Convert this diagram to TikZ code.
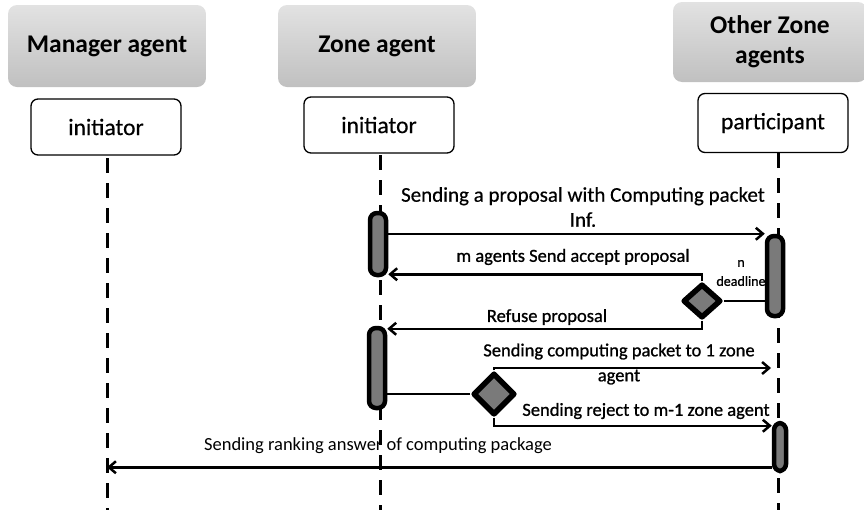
\documentclass[tikz,border=0pt]{standalone}
\usepackage{fontspec}
\setmainfont{Carlito}
\newfontfamily\heavyfont[FakeBold=0.9]{Carlito}
\newfontfamily\midfont[FakeBold=0.4]{Carlito}
\usetikzlibrary{arrows.meta,positioning,shapes.geometric}
\definecolor{hdtop}{RGB}{226,226,226}
\definecolor{hdbot}{RGB}{192,192,192}
\definecolor{barg}{RGB}{122,122,122}
\newcommand{\fsz}[2]{\fontsize{#1}{#2}\selectfont}

\begin{document}
\begin{tikzpicture}[x=1pt,y=-1pt,>={Straight Barb[length=7pt,width=12pt]},
  header/.style={rounded corners=9pt,top color=hdtop,bottom color=hdbot,minimum width=198pt,minimum height=82pt,align=center,font=\bfseries\fsz{25.5}{30}},
  role/.style={draw,line width=1.3pt,rounded corners=7pt,fill=white,minimum width=150pt,minimum height=56pt,font=\midfont\fsz{23.5}{28}},
  lifeline/.style={line width=3pt,dash pattern=on 15pt off 10pt},
  actbar/.style={draw,line width=4.5pt,rounded corners=7pt,fill=barg,minimum width=16pt,inner sep=0pt},
  choice/.style={diamond,draw,line width=5.5pt,line join=round,fill=barg,inner sep=0pt,minimum width=38pt,minimum height=34pt},
  msg/.style={->,line width=2.5pt},
  link/.style={line width=2.5pt},
  lbl/.style={font=\heavyfont\fsz{18.5}{25},align=center}]
  \useasboundingbox (0,0) rectangle (864,512);

  \node[header] (mgrhead) at (107,46) {Manager agent};
  \node[header] (zonehead) at (377,46) {Zone agent};
  \node[header,minimum width=194pt,minimum height=80pt] (othhead) at (770,42) {Other Zone\\agents};

  \node[role] (mgrrole) at (106,127) {initiator};
  \node[role] (zonerole) at (379,125) {initiator};
  \node[role,minimum height=59pt] (othrole) at (773,123) {participant};

  \coordinate (mgrtop) at (107,158);
  \coordinate (mgrend) at (107,510);
  \coordinate (zonetop) at (380,155);
  \coordinate (zoneend) at (380,510);
  \coordinate (othtop) at (778,153);
  \coordinate (othend) at (778,510);
  \draw[lifeline] (mgrtop) -- (mgrend);
  \draw[lifeline] (zonetop) -- (zoneend);
  \draw[lifeline] (othtop) -- (othend);

  \node[lbl,font=\midfont\fsz{21}{25}] (proplbl) at (583,207) {Sending a proposal with Computing packet\\Inf.};
  \node[lbl] (acclbl) at (573,257) {m agents Send accept proposal};
  \node[lbl,font=\heavyfont\fsz{14}{19}] (dllbl) at (741,273) {n\\deadline};
  \node[lbl] (reflbl) at (547,317) {Refuse proposal};
  \node[lbl] (cplbl) at (619,364) {Sending computing packet to 1 zone\\agent};
  \node[lbl] (rejlbl) at (646,411) {Sending reject to m-1 zone agent};
  \node[lbl,font=\fsz{18.5}{25}] (ranklbl) at (378,446) {Sending ranking answer of computing package};

  \node[actbar,minimum height=62pt] (zbar1) at (378,244) {};
  \node[actbar,minimum height=80pt] (zbar2) at (377,368) {};
  \node[actbar,minimum height=80pt] (obar1) at (775,276) {};
  \node[actbar,minimum width=12pt,minimum height=48pt] (obar2) at (780,447) {};

  \node[choice] (dec1) at (702,301) {};
  \node[choice,minimum width=42pt,minimum height=42pt] (dec2) at (494,394) {};
  \coordinate (cpend) at (771,368);
  \coordinate (rk) at ([yshift=6pt]obar2.south west);

  \draw[msg] (zbar1.east |- obar1.north) -- (obar1.north west);
  \draw[msg] (dec1.north) |- ([yshift=3pt]zbar1.south east);
  \draw[link] (dec1.east) -- (dec1.east -| obar1.west);
  \draw[msg] (dec1.south) |- ([yshift=-3pt]zbar2.north east);
  \draw[link] (zbar2.east |- dec2.west) -- (dec2.west);
  \draw[msg] (dec2.north) |- (cpend);
  \draw[msg] (dec2.south) |- ([yshift=-5pt]obar2.north west);
  \draw[msg] (rk) -- (rk -| mgrtop);
\end{tikzpicture}
\end{document}
